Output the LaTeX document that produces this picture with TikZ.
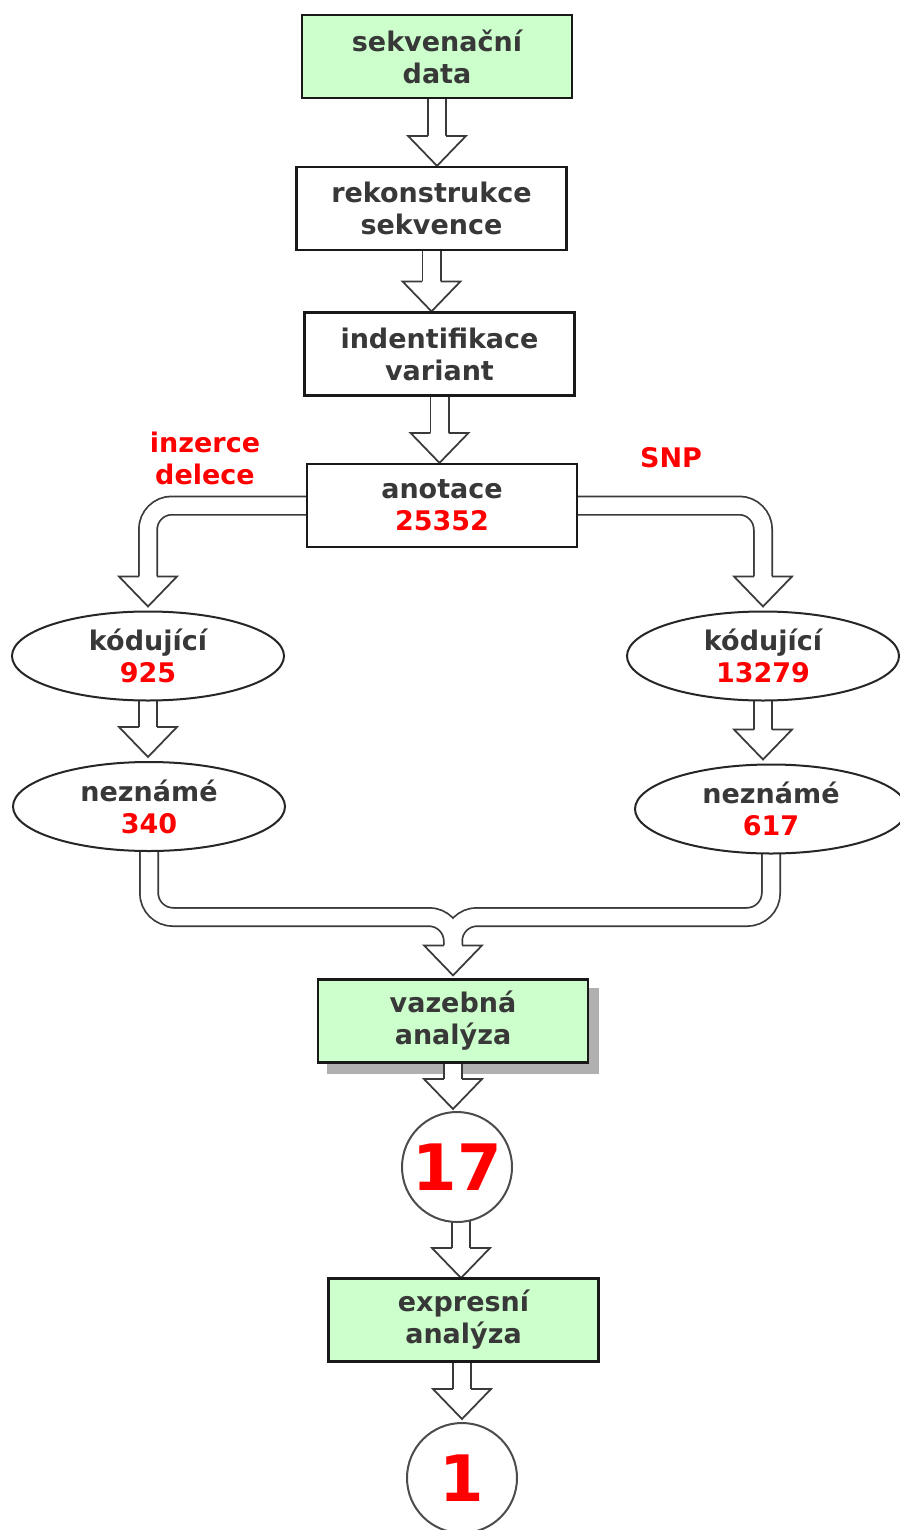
\documentclass[tikz,border=0pt]{standalone}
\usepackage{fontspec}
\setmainfont{DejaVu Sans}
\usetikzlibrary{backgrounds,shapes.geometric}
\definecolor{boxgreen}{HTML}{CCFFCC}
\definecolor{txt}{HTML}{383838}
\definecolor{lc}{HTML}{3A3A3A}
\definecolor{shadowc}{HTML}{B0B0B0}
\tikzset{
 every node/.style={font=\fontsize{27}{32}\selectfont\bfseries, text=txt},
 box/.style={draw=black!90, line width=2.2pt, minimum width=270pt, minimum height=83pt, inner sep=0pt, align=center, fill=white},
 greenbox/.style={box, fill=boxgreen},
 oval/.style={ellipse, draw=black!85, line width=2pt, fill=white, minimum width=272pt, minimum height=89pt, inner sep=0pt, align=center},
 numcircle/.style={circle, draw=black!70, line width=2pt, fill=white, minimum size=110pt, inner sep=0pt, text=red, font=\fontsize{64}{64}\selectfont\bfseries},
 redlabel/.style={text=red, align=center},
 pipeblack/.style={line width=20pt, draw=lc},
 pipewhite/.style={line width=16.5pt, draw=white},
 arrowhead/.style={fill=white, draw=lc, line width=1.75pt, line join=miter},
}
\newcommand\headat[1]{\draw[arrowhead] ([shift={(-9.125pt,30pt)}]#1) -- ([shift={(-29pt,30pt)}]#1) -- (#1) -- ([shift={(29pt,30pt)}]#1) -- ([shift={(9.125pt,30pt)}]#1);}
\newcommand\straightpipe[2]{%
 \draw[pipeblack] (#1) -- ([yshift=30pt]#2);
 \draw[pipewhite] (#1) -- ([yshift=29pt]#2);
 \headat{#2}}
\begin{document}
\begin{tikzpicture}[x=1pt,y=-1pt]
\useasboundingbox (0,0) rectangle (899,1530);
% nodes
\node[greenbox] (b1) at (437,56.5) {sekvenační\\data};
\node[box] (b2) at (431.5,208.5) {rekonstrukce\\sekvence};
\node[box] (b3) at (439.5,354) {indentifikace\\variant};
\node[box] (b4) at (442,505.5) {anotace\\\textcolor{red}{25352}};
\node[redlabel] (ins) at (205,458) {inzerce\\delece};
\node[redlabel] (snp) at (671,458) {SNP};
\node[oval] (k1) at (148,656) {kódující\\\textcolor{red}{925}};
\node[oval] (k2) at (763,656) {kódující\\\textcolor{red}{13279}};
\node[oval] (n1) at (149,806.5) {neznámé\\\textcolor{red}{340}};
\node[oval] (n2) at (771,809) {neznámé\\\textcolor{red}{617}};
\node[greenbox] (vaz) at (453,1021) {vazebná\\analýza};
\node[numcircle] (c17) at (457,1167) {17};
\node[greenbox] (exp) at (463.5,1320) {expresní\\analýza};
\node[numcircle] (c1) at (462,1478) {1};
% tip coordinates
\coordinate (t12) at (b1.center |- b2.north);
\coordinate (t23) at (b2.center |- b3.north);
\coordinate (t34) at (b3.center |- b4.north);
\coordinate (tk1) at ([yshift=4pt]k1.north);
\coordinate (tk2) at ([yshift=4pt]k2.north);
\coordinate (tn1) at ([yshift=4pt]k1.north |- n1.north);
\coordinate (tn2) at ([yshift=4pt]k2.north |- n2.north);
\coordinate (tv) at ([yshift=3pt]vaz.north);
\coordinate (t17) at ([yshift=2pt]vaz.center |- c17.north);
\coordinate (te) at (461,1278);
\coordinate (t1) at ([yshift=3pt]c1.north);
\coordinate (m) at (453,917);
\begin{scope}[on background layer]
\fill[white] (0,0) rectangle (899,1530);
\fill[shadowc] ([shift={(10pt,-10pt)}]vaz.south west) rectangle ([shift={(10pt,-10pt)}]vaz.north east);
\straightpipe{b1.center}{t12}
\straightpipe{b2.center}{t23}
\straightpipe{b3.center}{t34}
% split
\draw[pipeblack, rounded corners=24pt] (b4.center) -- (b4.center -| tk1) -- ([yshift=30pt]tk1);
\draw[pipeblack, rounded corners=24pt] (b4.center) -- (b4.center -| tk2) -- ([yshift=30pt]tk2);
\draw[pipewhite, rounded corners=24pt] (b4.center) -- (b4.center -| tk1) -- ([yshift=29pt]tk1);
\draw[pipewhite, rounded corners=24pt] (b4.center) -- (b4.center -| tk2) -- ([yshift=29pt]tk2);
\headat{tk1}
\headat{tk2}
\straightpipe{k1.center}{tn1}
\straightpipe{k2.center}{tn2}
% merge
\draw[pipeblack, rounded corners=24pt] (n1.center) -- (n1.center |- m) -- (m) -- ([yshift=30pt]tv);
\draw[pipeblack, rounded corners=24pt] (n2.center) -- (n2.center |- m) -- (m) -- ([yshift=30pt]tv);
\draw[pipewhite, rounded corners=24pt] (n1.center) -- (n1.center |- m) -- (m) -- ([yshift=29pt]tv);
\draw[pipewhite, rounded corners=24pt] (n2.center) -- (n2.center |- m) -- (m) -- ([yshift=29pt]tv);
\headat{tv}
\straightpipe{vaz.center}{t17}
\straightpipe{te |- c17.center}{te}
\straightpipe{t1 |- exp.center}{t1}
\end{scope}
\end{tikzpicture}
\end{document}
